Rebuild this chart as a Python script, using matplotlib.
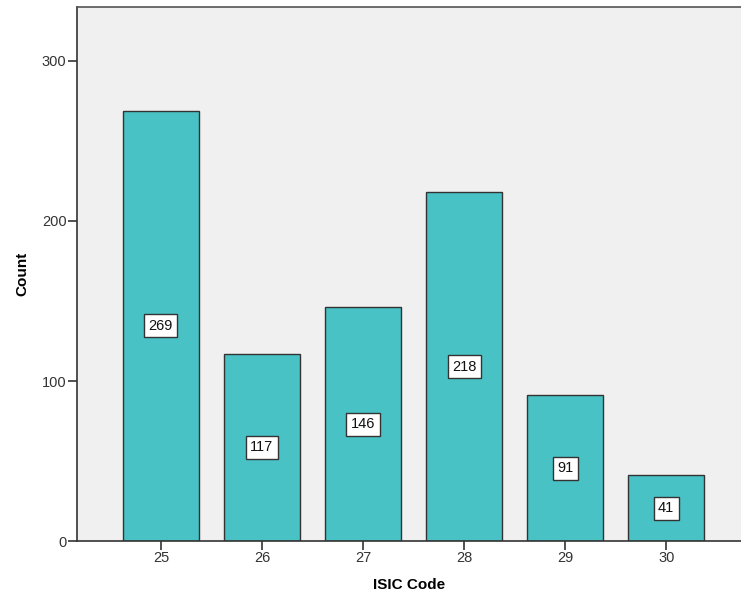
import matplotlib.pyplot as plt

# ISIC code counts
codes = [25, 26, 27, 28, 29, 30]
counts = [269, 117, 146, 218, 91, 41]
yticks = [0, 100, 200, 300]

plt.rcParams['font.family'] = ['Liberation Sans', 'DejaVu Sans']

fig = plt.figure(figsize=(7.41, 6.02), dpi=100)
ax = fig.add_axes([0.1039, 0.1013, 0.8961, 0.8871])
ax.set_facecolor('#f0f0f0')

ax.bar(codes, counts, width=0.75, color='#48c2c5', edgecolor='#333333', linewidth=1.0, zorder=2)

# value labels sit halfway up each bar
for x, c in zip(codes, counts):
    ax.text(x, c / 2, str(c), ha='center', va='center', fontsize=10.5, color='#111111', zorder=3,
            bbox=dict(boxstyle='square,pad=0.3', facecolor='white', edgecolor='#333333', linewidth=1.0))

ax.set_xlim(24.17, 30.74)
ax.set_ylim(0, 333.75)
ax.set_xticks(codes)
ax.set_yticks(yticks)
ax.tick_params(axis='both', direction='out', length=6.5, width=1.2, color='#333333',
               labelsize=10.5, labelcolor='#333333', pad=1)

for side in ['left', 'bottom', 'top']:
    ax.spines[side].set_color('#333333')
    ax.spines[side].set_linewidth(1.2)
ax.spines['top'].set_color('#555555')
ax.spines['right'].set_visible(False)

ax.set_xlabel('ISIC Code', fontsize=11, fontweight='bold', labelpad=9)
ax.set_ylabel('Count', fontsize=11, fontweight='bold', labelpad=9)

fig.savefig('out.png', dpi=100)
